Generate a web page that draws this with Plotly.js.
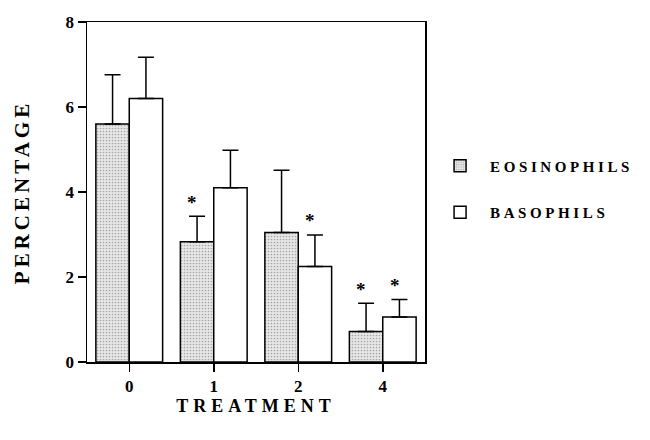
<!DOCTYPE html>
<html><head><meta charset="utf-8">
<script src="https://cdn.plot.ly/plotly-3.0.1.min.js"></script>
<style>
html,body{margin:0;padding:0;background:#fff}
#chart{width:650px;height:440px}
.legendtext{letter-spacing:3.6px}
.xtitle{letter-spacing:5px}
.ytitle{letter-spacing:4px}
</style></head><body><div id="chart"></div>
<script>
// ---- data ----
const treatments = ['0', '1', '2', '4'];
const eosinophils = [5.6, 2.83, 3.05, 0.72];
const eosinophilsErr = [1.16, 0.6, 1.46, 0.66];
const basophils = [6.2, 4.1, 2.25, 1.06];
const basophilsErr = [0.97, 0.88, 0.74, 0.41];
const eosSignificant = [false, true, false, true];
const basSignificant = [false, false, true, true];
const yTicks = [0, 2, 4, 6, 8];
const seriesNames = ['EOSINOPHILS', 'BASOPHILS'];

const serif = 'Liberation Serif, Times New Roman, serif';
const noMinus = treatments.map(() => 0);

const eosTrace = {
  type: 'bar', name: seriesNames[0], x: treatments, y: eosinophils,
  legendgroup: 'e',
  marker: {color: '#e6e6e6', line: {color: '#000', width: 1.5},
    pattern: {shape: '.', bgcolor: '#e8e8e8', fgcolor: '#a6a6a6', size: 3, solidity: 0.25}},
  error_y: {type: 'data', symmetric: false, array: eosinophilsErr, arrayminus: noMinus,
    color: '#000', thickness: 1.5, width: 8},
  hoverinfo: 'skip'
};
const basTrace = {
  type: 'bar', name: seriesNames[1], x: treatments, y: basophils,
  legendgroup: 'b',
  marker: {color: '#fff', line: {color: '#000', width: 1.5}},
  error_y: {type: 'data', symmetric: false, array: basophilsErr, arrayminus: noMinus,
    color: '#000', thickness: 1.5, width: 8},
  hoverinfo: 'skip'
};

const annotations = [];
function addStars(vals, errs, flags, offset) {
  flags.forEach((f, i) => {
    if (!f) return;
    annotations.push({
      x: i + offset, y: vals[i] + errs[i], xref: 'x', yref: 'y',
      text: '*', showarrow: false, xshift: -5, yshift: 14,
      yanchor: 'middle', xanchor: 'center',
      font: {family: serif, size: 19, color: '#000', weight: 700}
    });
  });
}
addStars(eosinophils, eosinophilsErr, eosSignificant, -0.2);
addStars(basophils, basophilsErr, basSignificant, 0.2);

const layout = {
  width: 650, height: 440,
  margin: {l: 87, r: 223, t: 22, b: 78},
  paper_bgcolor: '#fff', plot_bgcolor: '#fff',
  barmode: 'group', bargap: 0.21, bargroupgap: 0,
  font: {family: serif, color: '#000', weight: 700},
  showlegend: true,
  legend: {x: 1.015, y: 0.625, xanchor: 'left', yanchor: 'top',
    traceorder: 'grouped', tracegroupgap: 24, itemwidth: 50,
    font: {family: serif, size: 15, color: '#000', weight: 700},
    bgcolor: 'rgba(0,0,0,0)'},
  xaxis: {type: 'category', range: [-0.5, 3.5], ticks: 'outside', ticklen: 8, tickwidth: 1.5,
    tickcolor: '#000', showline: true, linewidth: 1.5, linecolor: '#000', mirror: true,
    showgrid: false, zeroline: false,
    tickfont: {family: serif, size: 17, color: '#000', weight: 700},
    title: {text: 'TREATMENT', standoff: 0, font: {family: serif, size: 18, color: '#000', weight: 700}}},
  yaxis: {range: [0, 8], tickvals: yTicks, ticktext: yTicks.map(String), ticks: 'outside',
    ticklen: 8, tickwidth: 1.5, tickcolor: '#000', showline: true, linewidth: 1.5,
    linecolor: '#000', mirror: true, showgrid: false, zeroline: false,
    tickfont: {family: serif, size: 17, color: '#000', weight: 700},
    title: {text: 'PERCENTAGE', standoff: 30, font: {family: serif, size: 21, color: '#000', weight: 700}}},
  annotations: annotations
};

Plotly.newPlot('chart', [eosTrace, basTrace], layout, {staticPlot: true, displayModeBar: false});
</script></body></html>
